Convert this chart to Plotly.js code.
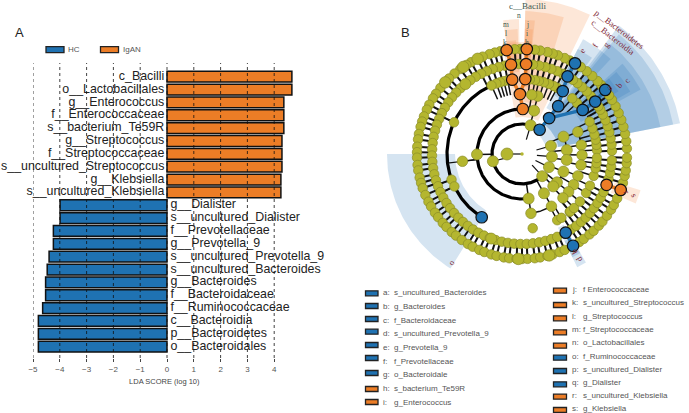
<!DOCTYPE html>
<html><head><meta charset="utf-8">
<script src="https://cdn.plot.ly/plotly-3.0.1.min.js"></script>
<style>html,body{margin:0;padding:0;background:#fff}#g{width:689px;height:413px}</style></head>
<body><div id="g"></div>
<script>
// ---- LDA bar data ----
const igan = ["c_Bacilli","o__Lactobacillales","g__Enterococcus","f__Enterococcaceae","s__bacterium_Te59R","g__Streptococcus","f__Streptococcaceae","s__uncultured_Streptococcus","g__Klebsiella","s__uncultured_Klebsiella"];
const iganLDA = [4.66,4.66,4.36,4.36,4.36,4.29,4.29,4.29,4.25,4.25];
const hc = ["g__Dialister","s__uncultured_Dialister","f__Prevotellaceae","g__Prevotella_9","s__uncultured_Prevotella_9","s__uncultured_Bacteroides","g__Bacteroides","f__Bacteroidaceae","f__Ruminococcaceae","c__Bacteroidia","p__Bacteroidetes","o__Bacteroidales"];
const hcLDA = [-3.99,-3.99,-4.24,-4.24,-4.4,-4.47,-4.53,-4.53,-4.64,-4.8,-4.8,-4.8];
const ldaTicks = [-5,-4,-3,-2,-1,0,1,2,3,4];

// ---- Cladogram data: node angles (deg, ccw from east) on each ring ----
const ring105 = [3,7,11,15,19,23,27,31,34,41,44,48,52,56,63,66,70,73,76,80,83,91,94,102,105,108,112,115,119,122,126,130,134,137,141,145,148,152,155,159,162,165,169,172,176,179,182,186,189,193,196,199,203,207,210,214,217,221,224,228,231,235,239,242,246,249,253,256,260,263,267,270,273,277,280,284,287,291,294,303,306,310,313,317,320,324,328,331,335,344,348,351,355,358];
const ring105Big = [115,124,137,268,285];
const ring90 = [2,6,10,14,18,22,26,29.5,32,40,44,48,52,55.5,63,67,71,75,79,83,92,101,105,109,113,117,121,125,129,133,137,141,145,149,153,157,161,165,169,173,177,181,185,189,193,197,201,205,209,213,217,221,225,229,233,237,241,245,249,253,257,261,265,269,273,277,281,285,289,293,303,307,311,315,319,323,327,331,335,344,348,352,356];
const ring90Big = [129,250];
const ring75 = [3,7,11,15,20,25.6,42.8,47.9,62,65,69,73,77,80,84,101,104,107,110,114,155,200,205.6,278.2,298,301.7,309.5,310,313.9,320.6,328.7,335,343,349,353,357];
const ring60 = [74.7,80.7,21.6,8.6,-1,-10.5,-21.4,-30.8,-39,-47,-60.6,-81.4,187];
const ring45 = [74.4,22.7,5,-7.6,-23,-39,-46,-60.8,180.5,278.5];
const ring30 = [73.3,15.6,-5,-26,-47.7,194];
const ring15 = [180];
// ticks between rings (r90 to r75) only where a link is drawn
const innerTicks = [2,6,10,14,18,22,26,29.5,32,40,44,48,63,67,71,75,79,83,101,105,109,113,117,155,200,205.6,303,307,311,315,319,323,327,331,335,344,348,352,356];
// heavy branch arcs: radius, from, to
const arcRadius = [75,45,30];
const arcFrom = [115,89,75];
const arcTo = [237.5,278.5,312];
// light branch arcs
const thinRadius = [45,45,60,60,60,75,75,75];
const thinFrom = [-7.6,-46,-10.5,-47,-81.4,3,-50,-31.3];
const thinTo = [22.7,-23,21.6,-21.4,-60.6,25.6,-39.4,-21.7];
// enriched clades
const orangeTheta = [98.4,87.4,97,87.4,97.5,87.5,92,89,-20,-20];
const orangeR = [105,105,90,90,75,75,60,45,90,105];
const blueTheta = [54,52.9,52.9,57.1,59.6,59.7,36,35.6,37.6,237.5,-61,-60.9];
const blueR = [30,45,60,75,90,105,75,90,105,75,90,105];
// highlighted wedges
const wedgeFrom = [64,73,84.5,85,85,91.3,92,93,88.7,-23.5, 11,11,11,47,54,56,28.5,30,33, -64,-64,180];
const wedgeTo = [88.7,88.7,88.7,88.7,88.7,98,98,98,100,-17, 53,51,52,62,62,62,42,41,41, -59.5,-59.5,238];
const wedgeInner = [37,52,67,82,97,67,82,97,37,97, 25,37,37,52,67,82,67,82,97, 82,97,67];
const wedgeOuter = [155,143,134,125,113,135,125,114,112,124, 161,154,141,130,119,110,135,125,115, 126,115,135];
const wedgeHue = ["o","o","o","o","o","o","o","o","o","o","b","b","b","b","b","b","b","b","b","b","b","b"];
// key
const keyLeftLetters = ["a:","b:","c:","d:","e:","f:","g:","h:","i:"];
const keyLeftNames = ["s_uncultured_Bacteroides","g_Bacteroides","f_Bacteroidaceae","s_uncultured_Prevotella_9","g_Prevotella_9","f_Prevotellaceae","o_Bacteroidale","s_bacterium_Te59R","g_Enterococcus"];
const keyLeftHue = ["b","b","b","b","b","b","b","o","o"];
const keyRightLetters = ["j:","k:","l:","m:","n:","o:","p:","q:","r:","s:"];
const keyRightNames = ["f Enterococcaceae","s_uncultured_Streptococcus","g_Streptococcus","f_Streptococcaceae","o_Lactobacillales","f_Ruminococcaceae","s_uncultured_Dialister","g_Dialister","s_uncultured_Klebsiella","g_Klebsiella"];
const keyRightHue = ["o","o","o","o","o","b","b","b","o","o"];

// ---- styles / layout numbers ----
const W=689,H=413,CX=522,CY=154;
const ORANGE="#ec7d26",BLUE="#1f72b2",OLIVE="#b4b62f",OLIVEEDGE="#8a8c26";
const hue={o:ORANGE,b:BLUE}, tint={o:"rgba(243,135,60,0.2)",b:"rgba(31,114,178,0.19)"};
const keyLeftSwatchY=[293.3,306,319,331.7,345,358,373,389,402];
const keyLeftTextY=[292.7,306,320,333,347,361,374.7,388.7,402];
const keyRightSwatchY=[290.7,305,318.3,332.3,345.7,357.7,371,384.3,396.7,410];
const keyRightTextY=[289.3,302.7,316,329.3,342.7,356,369.3,382.7,395.3,408.7];

const rad=d=>d*Math.PI/180;
const px=(t,r)=>r*Math.cos(rad(t)), py=(t,r)=>r*Math.sin(rad(t));
const arcPts=(a,b,r)=>{const n=Math.max(2,Math.ceil(Math.abs(b-a)));const o=[];for(let i=0;i<=n;i++){o.push(a+(b-a)*i/n);}return o.map(t=>[px(t,r),py(t,r)]);};
const base={xaxis:"x2",yaxis:"y2",hoverinfo:"skip",showlegend:false,cliponaxis:true};
const traces=[];

// bars
const names=igan.concat(hc), vals=iganLDA.concat(hcLDA), ranks=names.map((_,i)=>i);
traces.push({type:"bar",orientation:"h",x:vals,y:ranks,width:0.84,
  marker:{color:vals.map(v=>v>0?ORANGE:BLUE),line:{color:"#111",width:1.5}},hoverinfo:"skip",showlegend:false});
traces.push({type:"scatter",mode:"text",x:iganLDA.map(()=>-0.1),y:igan.map((_,i)=>i),text:igan,textposition:"middle left",
  textfont:{family:"Liberation Sans",size:12.4,color:"#222"},hoverinfo:"skip",showlegend:false,cliponaxis:false});
traces.push({type:"scatter",mode:"text",x:hcLDA.map(()=>0.13),y:hc.map((_,i)=>i+igan.length),text:hc,textposition:"middle right",
  textfont:{family:"Liberation Sans",size:12.4,color:"#222"},hoverinfo:"skip",showlegend:false,cliponaxis:false});

// wedges
wedgeFrom.forEach((a,i)=>{
  const p=arcPts(a,wedgeTo[i],wedgeOuter[i]).concat(arcPts(wedgeTo[i],a,wedgeInner[i]));
  traces.push(Object.assign({},base,{type:"scatter",mode:"lines",x:p.map(q=>q[0]),y:p.map(q=>q[1]),fill:"toself",
    fillcolor:tint[wedgeHue[i]],line:{width:0}}));
});
// radial link helper
function links(thetas,r0,r1,color,width){
  const x=[],y=[];thetas.forEach(t=>{x.push(px(t,r0),px(t,r1),null);y.push(py(t,r0),py(t,r1),null);});
  traces.push(Object.assign({},base,{type:"scatter",mode:"lines",x,y,line:{color,width}}));
}
links(ring105,90,105,"#111",2);
links(innerTicks,75,90,"#111",2);
links(ring75.filter(t=>t<200||t>290).filter(t=>t!=155),60,75,"#111",1.5);
links(ring60,45,60,"#111",1.5);
links(ring45,30,45,"#111",1.5);
links(ring30,15,30,"#111",1.2);
links(ring15,0,15,"#111",1.2);
links([155,200,205.6],75,90,"#111",1.2);
links([187],45,75,"#111",1.2);
// arcs
thinRadius.forEach((r,i)=>{const p=arcPts(thinFrom[i],thinTo[i],r);
  traces.push(Object.assign({},base,{type:"scatter",mode:"lines",x:p.map(q=>q[0]),y:p.map(q=>q[1]),line:{color:"#111",width:1.5}}));});
arcRadius.forEach((r,i)=>{const p=arcPts(arcFrom[i],arcTo[i],r);
  traces.push(Object.assign({},base,{type:"scatter",mode:"lines",x:p.map(q=>q[0]),y:p.map(q=>q[1]),line:{color:"#000",width:3.2}}));});
// olive nodes
function nodes(thetas,r,size){
  traces.push(Object.assign({},base,{type:"scatter",mode:"markers",x:thetas.map(t=>px(t,r)),y:thetas.map(t=>py(t,r)),
    marker:{color:OLIVE,size,line:{color:OLIVEEDGE,width:0.7}}}));
}
nodes(ring75,75,9.5);nodes(ring90,90,9.5);nodes(ring105,105,9.5);
nodes(ring105Big,105,11.5);nodes(ring90Big,90,11);
nodes(ring60,60,10.5);nodes(ring45,45,11);nodes(ring30,30,11);nodes(ring15,15,12);
traces.push(Object.assign({},base,{type:"scatter",mode:"markers",x:[0],y:[0],marker:{color:OLIVE,size:3.5}}));
// coloured links and nodes
function chain(ts,rs,idx,color){
  const x=[],y=[];idx.forEach(g=>{g.forEach(i=>{x.push(px(ts[i],rs[i]));y.push(py(ts[i],rs[i]));});x.push(null);y.push(null);});
  traces.push(Object.assign({},base,{type:"scatter",mode:"lines",x,y,line:{color,width:3.5}}));
}
chain(orangeTheta,orangeR,[[0,2,4],[1,3,5],[6,7],[8,9],[4,6],[5,6]],ORANGE);
chain(blueTheta,blueR,[[0,1,2,3,4,5],[6,7,8],[10,11],[1,6]],BLUE);
traces.push(Object.assign({},base,{type:"scatter",mode:"markers",x:orangeTheta.map((t,i)=>px(t,orangeR[i])),y:orangeTheta.map((t,i)=>py(t,orangeR[i])),
  marker:{color:ORANGE,size:11.5,line:{color:"#111",width:1.2}}}));
traces.push(Object.assign({},base,{type:"scatter",mode:"markers",x:blueTheta.map((t,i)=>px(t,blueR[i])),y:blueTheta.map((t,i)=>py(t,blueR[i])),
  marker:{color:BLUE,size:11.5,line:{color:"#111",width:1.2}}}));

// shapes + annotations
const fx=v=>v/W, fy=v=>1-v/H;
const shapes=[], ann=[];
ldaTicks.forEach(t=>shapes.push({type:"line",xref:"x",yref:"y domain",x0:t,x1:t,y0:0,y1:1,layer:"above",line:{color:"#111",width:0.8,dash:"3px,3px"}}));
function swatch(x0,x1,yc,h,c){shapes.push({type:"rect",xref:"paper",yref:"paper",x0:fx(x0),x1:fx(x1),y0:fy(yc+h/2),y1:fy(yc-h/2),fillcolor:c,line:{color:"#222",width:1.3}});}
function label(x,y,text,o){ann.push(Object.assign({xref:"paper",yref:"paper",x:fx(x),y:fy(y),text,showarrow:false,xanchor:"left",yanchor:"middle",borderpad:0,
  font:{family:"Liberation Sans",size:8,color:"#555"}},o||{}));}
swatch(46,64,49.6,6,BLUE);label(67,49.3,"HC");
swatch(100.5,118.5,49.6,6,ORANGE);label(122,49.3,"IgAN");
label(14,33,"A",{font:{family:"Liberation Sans",size:13,color:"#222"}});
label(400,33,"B",{font:{family:"Liberation Sans",size:13,color:"#222"}});
keyLeftLetters.forEach((l,i)=>{swatch(365.5,378,keyLeftSwatchY[i],5,hue[keyLeftHue[i]]);label(382,keyLeftTextY[i],l);label(392.7,keyLeftTextY[i],keyLeftNames[i]);});
keyRightLetters.forEach((l,i)=>{swatch(553.5,566.5,keyRightSwatchY[i],5,hue[keyRightHue[i]]);label(571,keyRightTextY[i],l);label(581.7,keyRightTextY[i],keyRightNames[i]);});
const serifRed={family:"Liberation Serif",size:8.5,color:"#7d2230"}, serifGreen={family:"Liberation Serif",size:9,color:"#3c5a50"}, serifGreenSmall={family:"Liberation Serif",size:7.5,color:"#3c5a50"};
const clad=(x,y,t,f,ang)=>ann.push({xref:"paper",yref:"paper",x:fx(x),y:fy(y),text:t,showarrow:false,xanchor:"center",yanchor:"middle",borderpad:0,font:f,textangle:ang||0});
clad(527.5,5.5,"c__Bacilli",serifGreen);
[[519,15,"n"],[505.7,25,"m"],[506,34,"l"],[505,43,"k"],[527.7,24,"j"],[527.3,33.3,"i"],[526.7,42.7,"h"]].forEach(a=>clad(a[0],a[1],a[2],serifGreenSmall));
clad(619,29,"p__Bacteroidetes",serifRed,37);
clad(612.5,37.5,"c__Bacteroidia",serifRed,38);
[[581.7,50.7,"e",-60],[595,46,"f",-60],[606,45,"g",-55],[627.3,80,"c",-50],[619.3,85,"b",-50],[609.3,87,"a",-50],[576,250.7,"q",60],[580.7,258,"p",60],[450.7,262.7,"o",-55],[634.3,195,"s",70],[626.7,192.3,"r",70]]
  .forEach(a=>clad(a[0],a[1],a[2],serifRed,a[3]));

const layout={width:W,height:H,margin:{l:0,r:0,t:0,b:0},paper_bgcolor:"#fff",plot_bgcolor:"rgba(0,0,0,0)",showlegend:false,bargap:0,
  xaxis:{domain:[33/W,(33+9.8*26.8)/W],range:[-5,4.8],tickvals:ldaTicks,ticks:"outside",ticklen:3,tickcolor:"#444",showgrid:false,zeroline:false,showline:false,
    tickfont:{family:"Liberation Sans",size:8,color:"#555"},title:{text:"LDA SCORE (log 10)",font:{family:"Liberation Sans",size:7.5,color:"#444"},standoff:6},anchor:"y"},
  yaxis:{domain:[1-358/H,1-63/H],range:[21.88,-1.065],visible:false,anchor:"x"},
  xaxis2:{domain:[340/W,1],range:[340-CX,W-CX],visible:false,anchor:"y2",fixedrange:true},
  yaxis2:{domain:[0,1],range:[CY-H,CY],visible:false,anchor:"x2",fixedrange:true},
  shapes,annotations:ann};
Plotly.newPlot("g",traces,layout,{displayModeBar:false,staticPlot:true});
</script></body></html>
